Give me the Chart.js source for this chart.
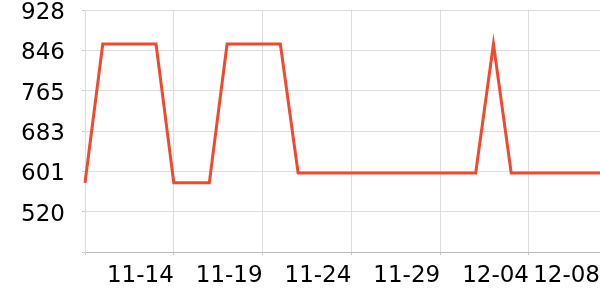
<!DOCTYPE html>
<html>
<head>
<meta charset="utf-8">
<script src="https://cdn.jsdelivr.net/npm/chart.js@4"></script>
<style>
  html, body { margin: 0; padding: 0; background: #fff; }
  #wrap { width: 600px; height: 300px; }
</style>
</head>
<body>
<div id="wrap"><canvas id="c" width="600" height="300"></canvas></div>
<script>
// one point per day, 11-09 .. 12-08
var dates = [
    "11-09", "11-10", "11-11", "11-12", "11-13", "11-14", "11-15", "11-16", "11-17", "11-18",
    "11-19", "11-20", "11-21", "11-22", "11-23", "11-24", "11-25", "11-26", "11-27", "11-28",
    "11-29", "11-30", "12-01", "12-02", "12-03", "12-04", "12-05", "12-06", "12-07", "12-08"
];
var values = [
    578, 859, 859, 859, 859, 578, 578, 578, 859, 859,
    859, 859, 598, 598, 598, 598, 598, 598, 598, 598,
    598, 598, 598, 859, 598, 598, 598, 598, 598, 598
];
// which dates get a tick / grid line (index 0 is the axis itself, no label)
var xTickIdx = [0, 5, 10, 15, 20, 25, 29];
var yMin = 438;
var yMax = 928;
var yTickValues = [438, 519.67, 601.33, 683, 764.67, 846.33, 928];

var fontSpec = { family: "DejaVu Sans", size: 23 };

new Chart(document.getElementById("c").getContext("2d"), {
    type: "line",
    data: {
        labels: dates,
        datasets: [
            {
                data: values,
                borderColor: "#ef4a2d",
                borderWidth: 3,
                pointRadius: 0,
                tension: 0,
                fill: false,
            },
        ],
    },
    options: {
        responsive: false,
        animation: false,
        layout: { padding: { top: 10, right: 0, left: 0, bottom: 0 } },
        plugins: {
            legend: false, // no legend
            tooltip: { enabled: false },
        },
        scales: {
            x: {
                type: "category",
                offset: false,
                grid: { color: "#dddddd", tickLength: 3, tickColor: "#cccccc" },
                border: { color: "#bbbbbb" },
                ticks: {
                    autoSkip: false,
                    maxRotation: 0,
                    align: "end",
                    padding: 7,
                    color: "#000",
                    font: fontSpec,
                    callback: function (value) {
                        return value === 0 ? "" : dates[value];
                    },
                },
                afterBuildTicks: function (scale) {
                    scale.ticks = xTickIdx.map(function (i) {
                        return { value: i };
                    });
                },
                afterFit: function (scale) {
                    scale.height = 48;
                    scale.paddingLeft = 0;
                    scale.paddingRight = 0;
                },
            },
            y: {
                min: yMin,
                max: yMax,
                grid: { color: "#dddddd", tickLength: 3, tickColor: "#cccccc" },
                border: { color: "#dddddd" },
                ticks: {
                    padding: 17,
                    labelOffset: 3,
                    color: "#000",
                    font: fontSpec,
                    callback: function (value) {
                        return value === yMin ? "" : Math.round(value);
                    },
                },
                afterBuildTicks: function (scale) {
                    scale.ticks = yTickValues.map(function (v) {
                        return { value: v };
                    });
                },
                afterFit: function (scale) {
                    scale.width = 85;
                    scale.paddingTop = 0;
                    scale.paddingBottom = 0;
                },
            },
        },
    },
});
</script>
</body>
</html>
